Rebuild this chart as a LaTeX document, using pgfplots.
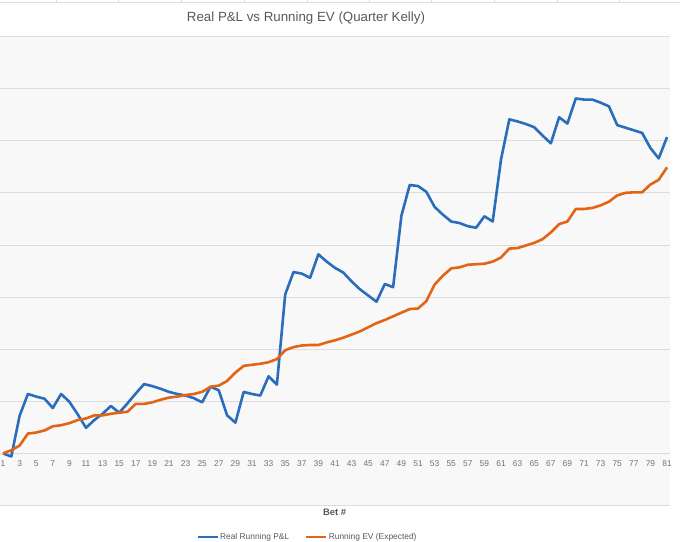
\documentclass[border=0pt]{standalone}
\usepackage{pgfplots}
\pgfplotsset{compat=1.18}
\usepackage{fontspec}
\setmainfont{Liberation Sans}
\definecolor{bgc}{HTML}{F8F8F8}
\definecolor{gridc}{HTML}{DCDCDC}
\definecolor{txt}{HTML}{595959}
\definecolor{tickc}{HTML}{737373}
\definecolor{blueL}{HTML}{2A6EBB}
\definecolor{orangeL}{HTML}{E36414}

\pgfplotstableread{
x y
1 0
2 -0.06
3 0.72
4 1.14
5 1.09
6 1.05
7 0.87
8 1.14
9 0.99
10 0.75
11 0.49
12 0.64
13 0.76
14 0.91
15 0.78
16 0.96
17 1.15
18 1.33
19 1.29
20 1.24
21 1.18
22 1.14
23 1.11
24 1.06
25 0.98
26 1.28
27 1.21
28 0.73
29 0.59
30 1.18
31 1.14
32 1.11
33 1.48
34 1.32
35 3.05
36 3.48
37 3.45
38 3.37
39 3.82
40 3.68
41 3.56
42 3.47
43 3.30
44 3.15
45 3.03
46 2.91
47 3.25
48 3.19
49 4.56
50 5.15
51 5.13
52 5.02
53 4.73
54 4.58
55 4.45
56 4.42
57 4.36
58 4.33
59 4.55
60 4.45
61 5.64
62 6.41
63 6.37
64 6.32
65 6.26
66 6.10
67 5.95
68 6.45
69 6.33
70 6.81
71 6.79
72 6.79
73 6.73
74 6.66
75 6.30
76 6.25
77 6.20
78 6.15
79 5.86
80 5.66
81 6.07
}\realpl

\pgfplotstableread{
x y
1 0
2 0.06
3 0.15
4 0.38
5 0.40
6 0.44
7 0.52
8 0.54
9 0.58
10 0.64
11 0.67
12 0.73
13 0.73
14 0.76
15 0.78
16 0.80
17 0.95
18 0.95
19 0.98
20 1.03
21 1.07
22 1.09
23 1.12
24 1.14
25 1.18
26 1.28
27 1.30
28 1.39
29 1.55
30 1.68
31 1.70
32 1.72
33 1.75
34 1.81
35 1.98
36 2.04
37 2.07
38 2.08
39 2.08
40 2.13
41 2.17
42 2.22
43 2.28
44 2.34
45 2.42
46 2.50
47 2.56
48 2.63
49 2.70
50 2.77
51 2.78
52 2.92
53 3.24
54 3.41
55 3.55
56 3.57
57 3.62
58 3.63
59 3.64
60 3.68
61 3.76
62 3.93
63 3.94
64 3.99
65 4.04
66 4.11
67 4.24
68 4.40
69 4.45
70 4.69
71 4.69
72 4.71
73 4.76
74 4.83
75 4.95
76 5.00
77 5.01
78 5.01
79 5.16
80 5.25
81 5.49
}\runev

\begin{document}
\begin{tikzpicture}
\useasboundingbox (0,0) rectangle (680bp,542bp);
\fill[white] (0,0) rectangle (680bp,542bp);
\draw[gridc, line width=0.8bp] (0,539.3bp) -- (680bp,539.3bp);
\foreach \x in {56,118,181,244,307,369,431,494,557,619} \draw[gridc, line width=0.8bp] (\x bp,539.3bp) -- (\x bp,542bp);
\begin{axis}[
  at={(0bp,36.5bp)}, anchor=south west,
  scale only axis, width=670bp, height=469bp,
  xmin=0.64, xmax=81.36, ymin=-1, ymax=8,
  axis line style={draw=none}, major tick length=0pt,
  xtick={1,3,...,81}, ytick={-1,0,...,8}, yticklabels={},
  /pgf/number format/assume math mode=true,
  ymajorgrids, grid style={gridc, line width=0.8bp},
  axis background/.style={fill=bgc},
  xticklabel style={anchor=center, yshift=42.2bp, font=\fontsize{8.4bp}{10bp}\selectfont, text=tickc},
  xlabel={Bet \#},
  xlabel style={at={(axis description cs:0.4993,-0.0139)}, anchor=center, font=\bfseries\fontsize{9.4bp}{11bp}\selectfont, text=txt},
  every axis title shift=0pt,
  title={Real P\&L vs Running EV (Quarter Kelly)},
  title style={at={(axis description cs:0.4567,1.0394)}, anchor=center, font=\fontsize{13.3bp}{16bp}\selectfont, text=txt},
  legend columns=2,
  legend style={at={(axis description cs:0.4582,-0.0672)}, anchor=center, draw=none, fill=none,
    font=\fontsize{8.4bp}{10bp}\selectfont, text=txt, inner sep=0pt,
    /tikz/every even column/.append style={column sep=15bp},
    nodes={inner sep=1bp}},
  legend image code/.code={\draw[#1] (0bp,0bp) -- (20bp,0bp);},
]
\addplot[blueL, line width=2.6bp, line join=round, mark=none] table[x=x,y=y] {\realpl};
\addlegendentry{Real Running P\&L}
\addplot[orangeL, line width=2.6bp, line join=round, mark=none] table[x=x,y=y] {\runev};
\addlegendentry{Running EV (Expected)}
\end{axis}
\end{tikzpicture}
\end{document}
